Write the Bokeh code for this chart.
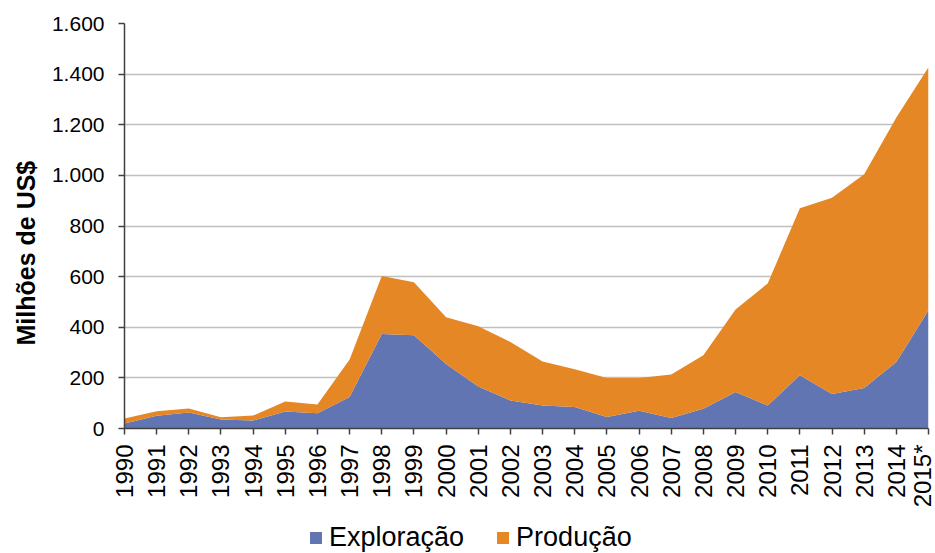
from bokeh.plotting import figure
from bokeh.models import Range1d, FixedTicker, CustomJSTickFormatter, Legend, LegendItem, ColumnDataSource, Title
from bokeh.layouts import column
from bokeh.embed import file_html
from bokeh.resources import INLINE
import math

years = [1990, 1991, 1992, 1993, 1994, 1995, 1996, 1997, 1998, 1999, 2000, 2001, 2002,
         2003, 2004, 2005, 2006, 2007, 2008, 2009, 2010, 2011, 2012, 2013, 2014, 2015]
year_labels = ["1990", "1991", "1992", "1993", "1994", "1995", "1996", "1997", "1998", "1999",
               "2000", "2001", "2002", "2003", "2004", "2005", "2006", "2007", "2008", "2009",
               "2010", "2011", "2012", "2013", "2014", "2015*"]
exploracao = [20, 50, 63, 36, 32, 67, 60, 124, 373, 368, 255, 166, 111, 91, 85, 45, 70, 41,
              78, 144, 91, 210, 136, 160, 263, 467]
total = [40, 68, 79, 44, 51, 107, 95, 273, 602, 578, 440, 404, 342, 265, 234, 200, 200, 213,
         289, 470, 573, 870, 912, 1004, 1229, 1427]
producao = [t - e for t, e in zip(total, exploracao)]
series_names = ["Exploração", "Produção"]
colors = ["#6175B2", "#E58725"]

src = ColumnDataSource(dict(x=years, exp=exploracao, prod=producao))

p = figure(width=935, height=510, output_backend="svg", toolbar_location=None,
           x_range=Range1d(1990, 2015), y_range=Range1d(0, 1600),
           min_border_left=123, min_border_right=7, min_border_top=23, min_border_bottom=82)
p.outline_line_color = None

r = p.varea_stack(stackers=["exp", "prod"], x="x", source=src, color=colors)

FONT = "Liberation Sans"
p.xaxis.ticker = FixedTicker(ticks=years)
p.xaxis.major_label_overrides = {y: l for y, l in zip(years, year_labels)}
p.xaxis.major_label_orientation = math.pi / 2
p.yaxis.ticker = FixedTicker(ticks=list(range(0, 1601, 200)))
p.yaxis.formatter = CustomJSTickFormatter(code="return tick.toFixed(0).replace(/\\B(?=(\\d{3})+(?!\\d))/g, '.');")
for ax in (p.xaxis, p.yaxis):
    ax.axis_line_color = "#404040"
    ax.axis_line_width = 1.5
    ax.major_tick_line_color = "#404040"
    ax.major_tick_line_width = 1.5
    ax.major_tick_out = 6
    ax.major_tick_in = 0
    ax.minor_tick_line_color = None
    ax.major_label_text_font = FONT
    ax.major_label_text_color = "#000000"
p.xaxis.major_label_text_font_size = "24px"
p.yaxis.major_label_text_font_size = "21px"
p.xaxis.major_label_standoff = 10
p.yaxis.major_label_standoff = 14

ytitle = Title(text="Milhões de US$", align="left", offset=83, standoff=18,
               text_font=FONT, text_font_style="bold", text_font_size="25px",
               text_color="#000000")
p.add_layout(ytitle, "left")

p.xgrid.grid_line_color = None
p.ygrid.grid_line_color = "#C0C0C0"
p.ygrid.grid_line_width = 1.5

# legend in a separate strip below the chart
p2 = figure(width=935, height=43, output_backend="svg", toolbar_location=None,
            x_range=Range1d(0, 1), y_range=Range1d(0, 1),
            x_axis_location=None, y_axis_location=None,
            min_border_left=0, min_border_right=0, min_border_top=0, min_border_bottom=0)
p2.outline_line_color = None
p2.grid.grid_line_color = None
dummies = [p2.varea(x=[0, 1], y1=[0, 0], y2=[0, 0], color=c) for c in colors]
legend = Legend(items=[LegendItem(label=n, renderers=[d]) for n, d in zip(series_names, dummies)],
                orientation="horizontal", location=(184, 0))
legend.label_text_font = FONT
legend.label_text_font_size = "27px"
legend.label_text_color = "#000000"
legend.glyph_width = 15
legend.glyph_height = 15
legend.label_height = 15
legend.label_standoff = 6
legend.spacing = 31
legend.padding = 0
legend.margin = 0
legend.border_line_color = None
legend.background_fill_alpha = 0
p2.add_layout(legend, "center")

layout = column(p, p2, spacing=0)
open("out.html", "w").write(file_html(layout, INLINE))
